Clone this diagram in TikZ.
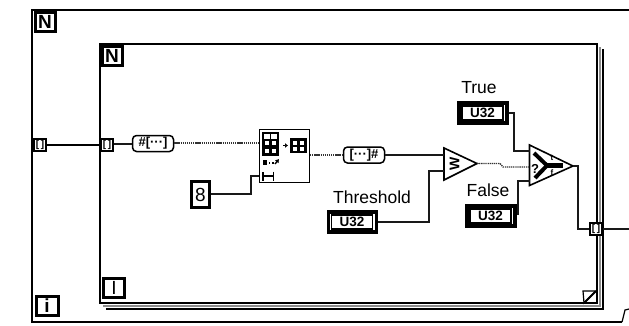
\documentclass[tikz,border=0pt]{standalone}
\usepackage{fontspec}
\usetikzlibrary{arrows.meta}
\setmainfont{Liberation Sans}
\tikzset{
  x=1pt,y=-1pt,
  frameline/.style={draw=black,line width=1.8pt},
  innerframe/.style={draw=black,line width=1.4pt},
  thinwire/.style={draw=black!90,line width=1.2pt},
  heavywire/.style={draw=black,line width=2pt},
  bitswire/.style={draw=black!80,line width=1.3pt,dash pattern=on 1.3pt off 0.8pt},
  letterbox/.style={draw=black,fill=white,line width=3pt,minimum width=20pt,minimum height=19pt,inner sep=0pt,font=\bfseries\fontsize{19}{19}\selectfont},
  tunnelbox/.style={draw=black,fill=white,line width=1.5pt,minimum width=12pt,minimum height=12pt,inner sep=0pt,font=\bfseries\fontsize{10}{10}\selectfont},
  bundlebox/.style={draw=black,fill=white,line width=1.5pt,rounded corners=4pt,minimum width=41pt,minimum height=16pt,inner sep=0pt,font=\bfseries\fontsize{13}{13}\selectfont},
  ubox/.style={draw=black,fill=white,line width=3.5pt,minimum width=48pt,minimum height=20pt,inner sep=0pt},
  uinner/.style={draw=black,fill=white,line width=1.2pt,minimum width=41pt,minimum height=14pt,inner sep=0pt,font=\bfseries\fontsize{13.5}{13.5}\selectfont},
  lbl/.style={font=\fontsize{17.5}{17.5}\selectfont,inner sep=0pt},
  gatebox/.style={draw=black,fill=white,line width=1.6pt,line join=miter},
}
\begin{document}
\begin{tikzpicture}
\useasboundingbox (0,0) rectangle (629,325);
% outer frame
\draw[frameline] (629,10) -- (32,10) -- (32,322) -- (622,322);
\draw[line width=1.2pt] (622,322) -- (625,310) -- (629,309);
% inner frame with shadow
\draw[black!45,line width=2.6pt] (600,47) -- (600,306) -- (103,306);
\draw[black,line width=1.3pt] (603,49) -- (603,309) -- (106,309);
\draw[innerframe] (100,303) -- (100,44) -- (597,44) -- (597,303) -- cycle;
\draw[black,line width=1.2pt,fill=white] (583,291) -- (596,291) -- (584,303) -- cycle;
\draw[black,line width=1.8pt] (596,291) -- (584,303);
% corner labels
\node[letterbox] (no) at (45,22) {N};
\node[letterbox] (ni) at (112,56) {N};
\node[letterbox,minimum width=22pt] (io) at (47,306) {i};
\node[letterbox,minimum width=21pt,font=\fontsize{19}{19}\selectfont] (ii) at (114,288) {I};
% tunnels
\node[tunnelbox] (t1) at (40,145) {[\,]};
\node[tunnelbox] (t2) at (107,145) {[\,]};
\node[tunnelbox] (t3) at (596,229) {[\,]};
\coordinate (outend) at (629,229);
% unbundle / bundle
\node[bundlebox] (ub) at (153,143.5) {\#[···]};
\node[bundlebox] (bd) at (364,155) {[···]\#};
% function
\node[draw=black,line width=1.8pt,fill=white,minimum width=50pt,minimum height=53pt,inner sep=0pt] (fn) at (284.5,156) {};
\fill (262,132) rectangle (279,156);
\foreach \x/\y in {265/141,272/141,265/149,272/149}
  \fill[white] (\x,\y) rectangle ++(4,4);
\fill[white] (264,134) rectangle (270,139);
\fill[white] (271,134) rectangle (277,139);
\fill (290,138) rectangle (307,153);
\foreach \x/\y in {293/141,300/141,293/147,300/147}
  \fill[white] (\x,\y) rectangle ++(4,3.5);
\draw[-{Latex[length=3pt,width=5pt]},line width=1.2pt] (283,145.5) -- (288,145.5);
\fill (263,160) rectangle (267,165);
\draw[line width=1.3pt,dotted] (269,163) -- (274,163);
\draw[-{Latex[length=3.5pt,width=5pt]},line width=1.4pt] (275,164) -- (279,159);
\draw[line width=1.5pt,{|-|}] (262,176) -- (274,176);
\coordinate (fnin) at (259,143);
\coordinate (fnlen) at (259,176);
\coordinate (fnout) at (310,155);
% constant
\node[draw=black,fill=white,line width=3pt,minimum width=18pt,minimum height=26pt,inner sep=0pt,font=\fontsize{19}{19}\selectfont] (eight) at (200.5,194.5) {8};
% comparison
\coordinate (cmpa) at (444,148);
\coordinate (cmpb) at (444,180);
\coordinate (cmpc) at (477,163.5);
\draw[gatebox] (cmpa) -- (cmpc) -- (cmpb) -- cycle;
\node[font=\bfseries\fontsize{14}{14}\selectfont,rotate=90,inner sep=0pt] (cmpsym) at (454.5,164) {W};
% select
\coordinate (sela) at (529.5,145);
\coordinate (selb) at (529.5,185.5);
\coordinate (selc) at (573,166);
\draw[gatebox] (sela) -- (selc) -- (selb) -- cycle;
% wires drawn before the select icon so the icon stays on top
\draw[bitswire] (cmpc) -- (500,163.5) -- (503,167) -- (529.5,167);
\draw[line width=4pt] (534,153) -- (547,165.5);
\draw[line width=4pt] (547,165.5) -- (535,178);
\draw[line width=4.5pt] (547,165.5) -- (563,165.5);
\node[font=\bfseries\fontsize{13}{13}\selectfont,inner sep=0pt] (selq) at (535,169) {?};
\node[font=\bfseries\fontsize{8}{8}\selectfont,inner sep=0pt] (selt) at (552,158) {t};
\node[font=\bfseries\fontsize{8}{8}\selectfont,inner sep=0pt] (self) at (552,173) {f};
% U32 controls
\node[ubox] (thr) at (352.5,222) {};
\node[uinner] (thrin) at (352,222) {U32};
\node[ubox] (tr) at (483,113) {};
\node[uinner] (trin) at (482.5,113) {U32};
\node[ubox] (fa) at (491,216) {};
\node[uinner] (fain) at (490.5,216) {U32};
% labels
\node[lbl,anchor=center] (thrl) at (372,197) {Threshold};
\node[lbl,anchor=center] (trl) at (479,88) {True};
\node[lbl,anchor=center] (fal) at (488,190.5) {False};
% wires
\draw[heavywire] (t1.east |- 0,144.5) -- (t2.west |- 0,144.5);
\draw[thinwire] (t2.east |- 0,144) -- (ub.west |- 0,144);
\draw[bitswire] (ub.east |- fnin) -- (fnin);
\draw[thinwire] (eight.east |- 0,194) -- (251,194) -- (251,176) -- (fnlen);
\draw[bitswire] (fnout) -- (bd.west);
\draw[thinwire] (bd.east) -- (444,155);
\draw[thinwire] (thr.east) -- (429,222) -- (429,171) -- (444,171);
\draw[thinwire] (tr.east) -- (514,113) -- (514,151) -- (530,151);
\draw[thinwire] (fa.east |- 0,214) -- (518,214) -- (518,181) -- (530,181);
\draw[thinwire] (selc) -- (578,166) -- (578,229) -- (t3.west);
\draw[thinwire] (t3.east) -- (outend);
\end{tikzpicture}
\end{document}
